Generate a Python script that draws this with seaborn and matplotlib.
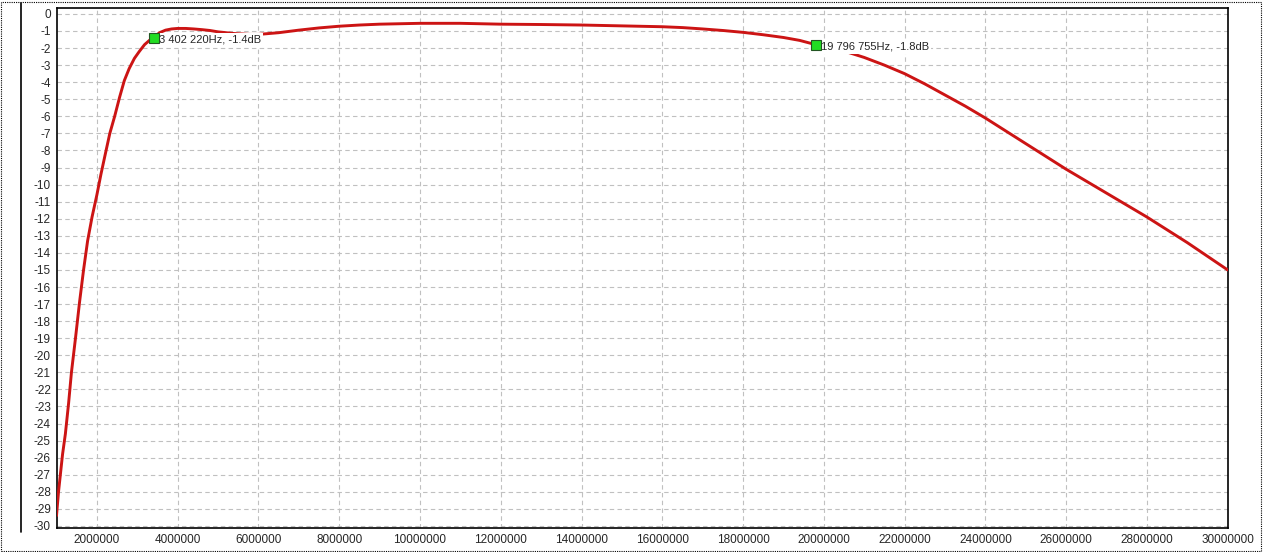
import seaborn as sns
import pandas as pd
import matplotlib.pyplot as plt
from matplotlib.lines import Line2D
from matplotlib.patches import Rectangle

# Frequency response
freq_mhz = [1.00, 1.05, 1.10, 1.15, 1.22, 1.30, 1.37, 1.47, 1.57, 1.67, 1.77, 1.88,
            2.00, 2.10, 2.20, 2.32, 2.44, 2.56, 2.68, 2.80, 2.93, 3.05, 3.18, 3.30,
            3.40, 3.55, 3.70, 3.85, 4.00, 4.20, 4.40, 4.60, 4.80, 5.00, 5.40, 5.80,
            6.00, 6.50, 7.00, 7.50, 8.00, 8.50, 9.00, 10.0, 11.0, 12.0, 13.0, 14.0,
            15.0, 16.0, 16.5, 17.0, 17.5, 18.0, 18.5, 19.0, 19.4, 19.8, 20.2, 20.6,
            21.0, 21.5, 22.0, 22.5, 23.0, 23.5, 24.0, 24.5, 25.0, 25.5, 26.0, 26.5,
            27.0, 27.5, 28.0, 28.5, 29.0, 29.5, 30.0]
level_db = [-29.4, -28.0, -26.9, -25.8, -24.6, -22.8, -21.0, -19.0, -16.9, -15.0, -13.3, -11.9,
            -10.6, -9.4, -8.3, -7.0, -6.0, -4.9, -3.9, -3.2, -2.6, -2.2, -1.8, -1.55,
            -1.4, -1.1, -0.95, -0.88, -0.85, -0.85, -0.88, -0.92, -0.97, -1.05, -1.15, -1.2,
            -1.2, -1.1, -0.95, -0.82, -0.72, -0.65, -0.6, -0.55, -0.55, -0.6, -0.62, -0.65,
            -0.7, -0.75, -0.8, -0.88, -0.97, -1.08, -1.22, -1.38, -1.55, -1.8, -2.0, -2.25,
            -2.55, -3.0, -3.5, -4.1, -4.75, -5.4, -6.1, -6.85, -7.6, -8.35, -9.1, -9.8,
            -10.5, -11.2, -11.9, -12.65, -13.4, -14.2, -15.0]

# Cursor markers
marker_hz = [3402220, 19796755]
marker_db = [-1.4, -1.8]
marker_labels = ["3 402 220Hz, -1.4dB", "19 796 755Hz, -1.8dB"]

x_ticks = list(range(2000000, 30000001, 2000000))
y_ticks = list(range(0, -31, -1))

df = pd.DataFrame({"freq": [f * 1e6 for f in freq_mhz], "level": level_db})

sns.set_style("white")
plt.rcParams['font.family'] = ['Liberation Sans', 'DejaVu Sans']

fig = plt.figure(figsize=(12.64, 5.52), dpi=100)
ax = fig.add_axes([56.5 / 1264, 24 / 552, (1227.7 - 56.5) / 1264, (543.7 - 24) / 552])

sns.lineplot(data=df, x="freq", y="level", ax=ax, color="#cc1414", linewidth=2.1,
             sort=False, estimator=None, zorder=3)

ax.set_xlim(1000000, 30000000)
ax.set_ylim(-30.12, 0.33)
ax.set_xticks(x_ticks)
ax.set_xticklabels([str(t) for t in x_ticks])
ax.set_yticks(y_ticks)
ax.set_yticklabels([str(t) for t in y_ticks])
ax.tick_params(labelsize=8.5, direction="inout", length=4, color="black", pad=2)
ax.set_xlabel("")
ax.set_ylabel("")
ax.grid(True, linestyle=(0, (4, 3)), color="#c0c0c0", linewidth=0.8)
for s in ax.spines.values():
    s.set_color("black")
    s.set_linewidth(1.2)

for hz, db, lab in zip(marker_hz, marker_db, marker_labels):
    ax.plot(hz, db, marker="s", markersize=6.5, markerfacecolor="#22dd22",
            markeredgecolor="#225522", markeredgewidth=0.8, zorder=5)
    ax.annotate(lab, (hz, db), xytext=(5, -2), textcoords="offset pixels",
                fontsize=8, va="center", ha="left", zorder=4,
                bbox=dict(facecolor="white", edgecolor="none", pad=1.4))

# outer window decorations
fig.add_artist(Line2D([20.7 / 1264, 20.7 / 1264], [20 / 552, 549 / 552], color="black", linewidth=1.2))
fig.add_artist(Rectangle((0.001, 0.002), 0.997, 0.995, transform=fig.transFigure, fill=False,
                         edgecolor="black", linestyle=(0, (1, 1)), linewidth=0.8))

fig.savefig("out.png", dpi=100)
